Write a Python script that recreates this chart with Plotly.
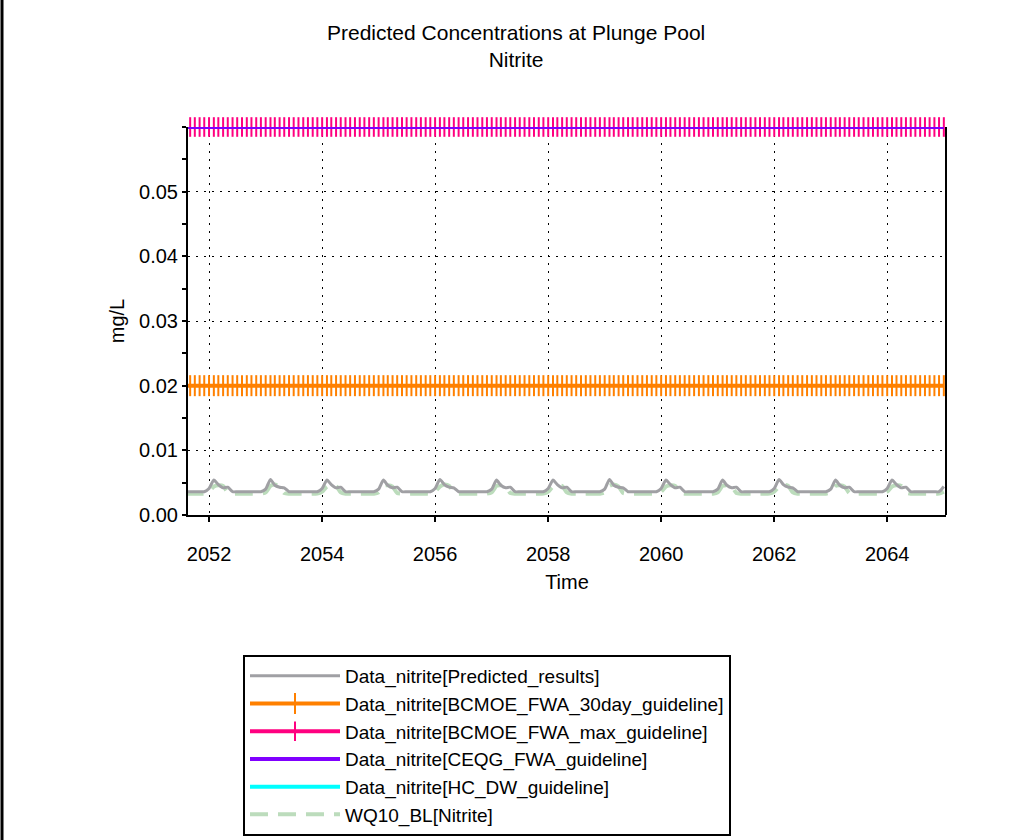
import pandas as pd
import plotly.graph_objects as go

# ---- data -------------------------------------------------------------
dates = pd.date_range("2051-08-01", "2065-01-01", freq="MS")

predicted = [
    0.0036, 0.0036, 0.0036, 0.0036, 0.0036,
    0.0041, 0.0054, 0.0047, 0.0042, 0.0043, 0.0036, 0.0036, 0.0036, 0.0036, 0.0036, 0.0036, 0.0036,
    0.0040, 0.0055, 0.0046, 0.0043, 0.0042, 0.0036, 0.0036, 0.0036, 0.0036, 0.0036, 0.0036, 0.0036,
    0.0041, 0.0054, 0.0047, 0.0042, 0.0043, 0.0036, 0.0036, 0.0036, 0.0036, 0.0036, 0.0036, 0.0036,
    0.0040, 0.0054, 0.0046, 0.0042, 0.0043, 0.0036, 0.0036, 0.0036, 0.0036, 0.0036, 0.0036, 0.0036,
    0.0041, 0.0055, 0.0047, 0.0043, 0.0042, 0.0036, 0.0036, 0.0036, 0.0036, 0.0036, 0.0036, 0.0036,
    0.0040, 0.0054, 0.0046, 0.0042, 0.0043, 0.0036, 0.0036, 0.0036, 0.0036, 0.0036, 0.0036, 0.0036,
    0.0041, 0.0054, 0.0047, 0.0042, 0.0043, 0.0036, 0.0036, 0.0036, 0.0036, 0.0036, 0.0036, 0.0036,
    0.0040, 0.0055, 0.0046, 0.0043, 0.0042, 0.0036, 0.0036, 0.0036, 0.0036, 0.0036, 0.0036, 0.0036,
    0.0041, 0.0054, 0.0047, 0.0042, 0.0043, 0.0036, 0.0036, 0.0036, 0.0036, 0.0036, 0.0036, 0.0036,
    0.0040, 0.0054, 0.0046, 0.0042, 0.0043, 0.0036, 0.0036, 0.0036, 0.0036, 0.0036, 0.0036, 0.0036,
    0.0041, 0.0055, 0.0047, 0.0043, 0.0042, 0.0036, 0.0036, 0.0036, 0.0036, 0.0036, 0.0036, 0.0036,
    0.0040, 0.0054, 0.0046, 0.0042, 0.0043, 0.0036, 0.0036, 0.0036, 0.0036, 0.0036, 0.0036, 0.0036,
    0.0041, 0.0054, 0.0047, 0.0042, 0.0043, 0.0036, 0.0036, 0.0036, 0.0036, 0.0036, 0.0036, 0.0036,
    0.0044,
]

wq10_bl = [
    0.0033, 0.0033, 0.0033, 0.0033, 0.0033,
    0.0036, 0.0044, 0.0046, 0.0045, 0.0035, 0.0033, 0.0033, 0.0033, 0.0033, 0.0033, 0.0033, 0.0033,
    0.0035, 0.0045, 0.0047, 0.0044, 0.0034, 0.0033, 0.0033, 0.0033, 0.0033, 0.0033, 0.0033, 0.0033,
    0.0036, 0.0044, 0.0046, 0.0045, 0.0035, 0.0033, 0.0033, 0.0033, 0.0033, 0.0033, 0.0033, 0.0033,
    0.0035, 0.0045, 0.0046, 0.0044, 0.0034, 0.0033, 0.0033, 0.0033, 0.0033, 0.0033, 0.0033, 0.0033,
    0.0036, 0.0044, 0.0047, 0.0045, 0.0035, 0.0033, 0.0033, 0.0033, 0.0033, 0.0033, 0.0033, 0.0033,
    0.0035, 0.0045, 0.0046, 0.0044, 0.0034, 0.0033, 0.0033, 0.0033, 0.0033, 0.0033, 0.0033, 0.0033,
    0.0036, 0.0044, 0.0046, 0.0045, 0.0035, 0.0033, 0.0033, 0.0033, 0.0033, 0.0033, 0.0033, 0.0033,
    0.0035, 0.0045, 0.0047, 0.0044, 0.0034, 0.0033, 0.0033, 0.0033, 0.0033, 0.0033, 0.0033, 0.0033,
    0.0036, 0.0044, 0.0046, 0.0045, 0.0035, 0.0033, 0.0033, 0.0033, 0.0033, 0.0033, 0.0033, 0.0033,
    0.0035, 0.0045, 0.0046, 0.0044, 0.0034, 0.0033, 0.0033, 0.0033, 0.0033, 0.0033, 0.0033, 0.0033,
    0.0036, 0.0044, 0.0047, 0.0045, 0.0035, 0.0033, 0.0033, 0.0033, 0.0033, 0.0033, 0.0033, 0.0033,
    0.0035, 0.0045, 0.0046, 0.0044, 0.0034, 0.0033, 0.0033, 0.0033, 0.0033, 0.0033, 0.0033, 0.0033,
    0.0036, 0.0044, 0.0046, 0.0045, 0.0035, 0.0033, 0.0033, 0.0033, 0.0033, 0.0033, 0.0033, 0.0033,
    0.0036,
]

bcmoe_30day = 0.02
bcmoe_max = 0.06
ceqg_fwa = 0.06
hc_dw = 3.0

names = [
    "Data_nitrite[Predicted_results]",
    "Data_nitrite[BCMOE_FWA_30day_guideline]",
    "Data_nitrite[BCMOE_FWA_max_guideline]",
    "Data_nitrite[CEQG_FWA_guideline]",
    "Data_nitrite[HC_DW_guideline]",
    "WQ10_BL[Nitrite]",
]

y_tickvals = [0.0, 0.01, 0.02, 0.03, 0.04, 0.05, 0.06]
y_ticktext = ["0.00", "0.01", "0.02", "0.03", "0.04", "0.05", ""]

n = len(dates)
FONT = "Liberation Sans, Arial, sans-serif"

fig = go.Figure()

fig.add_trace(go.Scatter(x=dates, y=wq10_bl, name=names[5], mode="lines",
                         line=dict(color="#bcdcbc", width=4, dash="18px,10px",
                                   shape="spline", smoothing=0.6),
                         legendrank=6))
fig.add_trace(go.Scatter(x=dates, y=predicted, name=names[0], mode="lines",
                         line=dict(color="#a0a0a4", width=3, shape="spline", smoothing=0.6),
                         legendrank=1))
fig.add_trace(go.Scatter(x=dates, y=[bcmoe_30day] * n, name=names[1], mode="lines+markers",
                         line=dict(color="#ff8000", width=4),
                         marker=dict(symbol="line-ns", size=15,
                                     line=dict(width=2, color="#ff8000")),
                         legendrank=2))
fig.add_trace(go.Scatter(x=dates, y=[bcmoe_max] * n, name=names[2], mode="lines+markers",
                         line=dict(color="#ff0080", width=4),
                         marker=dict(symbol="line-ns", size=14,
                                     line=dict(width=2, color="#ff0080")),
                         cliponaxis=False, legendrank=3))
fig.add_trace(go.Scatter(x=dates, y=[ceqg_fwa] * n, name=names[3], mode="lines",
                         line=dict(color="#8000ff", width=4), cliponaxis=False,
                         legendrank=4))
fig.add_trace(go.Scatter(x=dates, y=[hc_dw] * n, name=names[4], mode="lines",
                         line=dict(color="#00ffff", width=4), legendrank=5))

xrange = ["2051-08-18", "2065-01-15"]
yrange = [0, 0.06]

fig.update_layout(
    width=1020, height=840,
    margin=dict(l=188, r=74, t=127, b=325, autoexpand=False),
    paper_bgcolor="white", plot_bgcolor="white",
    font=dict(family=FONT, size=20, color="black"),
    title=dict(text="Predicted Concentrations at Plunge Pool<br>Nitrite",
               x=0.506, xanchor="center", xref="container",
               y=1 - 40 / 840, yanchor="top", yref="container",
               font=dict(size=21, family=FONT)),
    showlegend=True,
    legend=dict(x=(243 - 188) / 758, y=(515 - 655) / 388, xanchor="left", yanchor="top",
                bgcolor="white", bordercolor="black", borderwidth=2,
                font=dict(size=19, family=FONT), itemwidth=90, traceorder="normal",
                tracegroupgap=0),
    xaxis=dict(type="date", range=xrange, dtick="M24", tick0="2052-01-01",
               tickformat="%Y", showline=True, linecolor="black", linewidth=2,
               ticks="outside", ticklen=5, tickwidth=2, tickcolor="black",
               showgrid=True, gridcolor="black", gridwidth=1, griddash="2px,6px",
               zeroline=False, ticklabelstandoff=15,
               title=dict(text="Time", standoff=11, font=dict(size=20))),
    yaxis=dict(range=yrange, tickvals=y_tickvals, ticktext=y_ticktext, showline=True,
               linecolor="black", linewidth=2, ticks="outside", ticklen=4,
               tickwidth=2, tickcolor="black",
               minor=dict(dtick=0.005, ticks="outside", ticklen=4, tickwidth=2,
                          tickcolor="black", showgrid=False),
               showgrid=True, gridcolor="black", gridwidth=1, griddash="2px,6px",
               zeroline=False,
               title=dict(text="mg/L", standoff=9, font=dict(size=20))),
    xaxis2=dict(type="date", range=xrange, dtick="M24", tick0="2052-01-01",
                overlaying="x", anchor="y", side="bottom", showticklabels=False,
                ticks="inside", ticklen=5, tickwidth=2, tickcolor="black",
                showgrid=False, showline=False, zeroline=False),
    yaxis2=dict(range=yrange, dtick=0.01, overlaying="y", anchor="x", side="left",
                showticklabels=False, ticks="inside", ticklen=7, tickwidth=2,
                tickcolor="black",
                minor=dict(dtick=0.005, ticks="inside", ticklen=7, tickwidth=2,
                           tickcolor="black", showgrid=False),
                showgrid=False, showline=False, zeroline=False),
    shapes=[
        dict(type="line", xref="paper", yref="paper", x0=1, x1=1, y0=0, y1=1,
             line=dict(color="black", width=2)),
        dict(type="line", xref="paper", yref="paper",
             x0=(2 - 188) / 758, x1=(2 - 188) / 758, y0=-325 / 388, y1=(840 - 325) / 388,
             line=dict(color="black", width=3)),
    ],
)

fig.write_html("out.html")
